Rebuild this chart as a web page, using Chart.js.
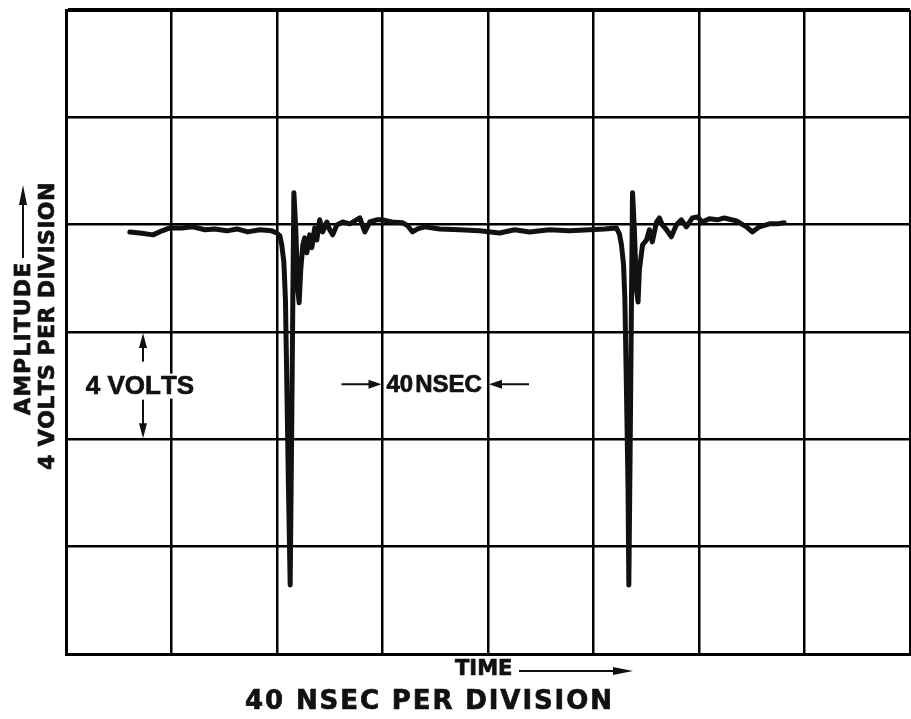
<!DOCTYPE html>
<html>
<head>
<meta charset="utf-8">
<title>Pulse trace</title>
<script src="https://cdn.jsdelivr.net/npm/chart.js@4/dist/chart.umd.min.js"></script>
<style>
    html, body { margin: 0; padding: 0; background: #fff; }
    canvas { display: block; }
</style>
</head>
<body>
<canvas id="scope" width="911" height="719"></canvas>
<script>
// screen: 8 divisions of 40 ns across, 6 divisions of 4 V up
let timeMin = 0;
let timeMax = 320;
let timeStep = 40;
let voltMin = 0;
let voltMax = 24;
let voltStep = 4;

// trace samples (ns, volts)
let traceTime = [
    24.2, 28.0, 33.0, 36.4, 39.4, 43.9, 48.1, 52.7, 56.4, 61.0, 64.8, 68.9, 73.5, 78.0,
    79.9, 81.1, 81.8, 82.6, 83.2, 83.7, 84.3, 85.0, 85.6, 86.0, 86.4, 87.1, 87.9, 88.4,
    89.0, 89.8, 90.5, 91.3, 92.4, 93.2, 94.3, 95.1, 96.2, 97.3, 98.9, 100.0, 101.1, 102.7,
    104.9, 107.6, 109.5, 111.4, 113.3, 115.2, 117.8, 120.1, 123.5, 127.7, 129.5, 131.4,
    133.3, 136.0, 141.7, 149.2, 156.8, 164.4, 170.1, 175.8, 183.3, 190.9, 198.5, 204.2,
    208.7, 209.8, 210.6, 211.4, 211.9, 212.5, 213.1, 213.4, 214.0, 214.4, 214.8, 215.5,
    216.3, 216.9, 217.4, 218.6, 220.1, 221.2, 222.3, 223.9, 225.0, 226.1, 227.7, 229.5,
    231.4, 233.3, 235.2, 237.5, 239.4, 241.3, 243.9, 247.0, 249.6, 254.2, 258.0, 260.2,
    262.9, 266.7, 269.7, 272.3
];
let traceVolts = [
    15.73, 15.69, 15.62, 15.77, 15.88, 15.88, 15.92, 15.81, 15.84, 15.77, 15.84, 15.73, 15.81, 15.77,
    15.69, 15.58, 15.25, 14.61, 13.20, 10.21, 6.49, 2.57, 8.72, 13.20, 17.19, 15.88, 13.57, 13.09,
    14.32, 15.25, 15.51, 14.95, 15.62, 15.14, 15.88, 15.43, 16.18, 15.73, 16.10, 15.81, 15.62, 15.99,
    16.10, 16.03, 16.14, 16.25, 15.73, 16.10, 16.18, 16.18, 16.10, 16.07, 15.96, 15.73,
    15.84, 15.92, 15.84, 15.81, 15.77, 15.69, 15.81, 15.73, 15.81, 15.77, 15.81, 15.84,
    15.88, 15.66, 15.25, 14.50, 13.20, 9.84, 6.11, 2.57, 8.72, 13.20, 17.19, 15.81,
    13.57, 13.12, 14.32, 15.25, 15.43, 15.81, 15.36, 16.10, 16.25, 15.99, 15.81, 15.55,
    15.99, 16.18, 15.92, 16.25, 16.29, 16.10, 16.22, 16.18, 16.25, 16.14, 15.92, 15.73,
    15.92, 16.03, 16.03, 16.07
];

// scale markers drawn on the graticule
let voltMarkTime = 29.2;
let voltMarkLow = 8;
let voltMarkHigh = 12;
let timeMarkLeft = 120;
let timeMarkRight = 160;
let timeMarkVolts = 10.05;

let points = traceTime.map((t, i) => ({ x: t, y: traceVolts[i] }));

const INK = '#111';
const SANS = '"Liberation Sans", Arial, sans-serif';
const WIDE = '"DejaVu Sans", sans-serif';

function arrow(ctx, x1, y1, x2, y2, len, half) {
    let a = Math.atan2(y2 - y1, x2 - x1);
    ctx.beginPath();
    ctx.moveTo(x1, y1);
    ctx.lineTo(x2 - Math.cos(a) * len * 0.6, y2 - Math.sin(a) * len * 0.6);
    ctx.stroke();
    ctx.beginPath();
    ctx.moveTo(x2, y2);
    ctx.lineTo(x2 - Math.cos(a) * len - Math.sin(a) * half, y2 - Math.sin(a) * len + Math.cos(a) * half);
    ctx.lineTo(x2 - Math.cos(a) * len + Math.sin(a) * half, y2 - Math.sin(a) * len - Math.cos(a) * half);
    ctx.closePath();
    ctx.fill();
}

// heavy lettering: fill plus a thin outline, letter by letter
function letter(ctx, text, x, y, spacing) {
    ctx.lineWidth = 0.7;
    for (let ch of text) {
        ctx.fillText(ch, x, y);
        ctx.strokeText(ch, x, y);
        x += ctx.measureText(ch).width + spacing;
    }
    return x;
}

function letterWidth(ctx, text, spacing) {
    let w = 0;
    for (let ch of text) w += ctx.measureText(ch).width + spacing;
    return w - spacing;
}

const scopeLabels = {
    id: 'scopeLabels',
    afterDraw(chart) {
        let ctx = chart.ctx;
        let xs = chart.scales.x;
        let ys = chart.scales.y;
        ctx.save();
        ctx.fillStyle = INK;
        ctx.strokeStyle = INK;
        ctx.textBaseline = 'middle';

        // 4 VOLTS marker
        let vx = xs.getPixelForValue(voltMarkTime);
        let vTop = ys.getPixelForValue(voltMarkHigh);
        let vBot = ys.getPixelForValue(voltMarkLow);
        let vMid = (vTop + vBot) / 2;
        ctx.lineWidth = 2;
        arrow(ctx, vx, vMid - 24, vx, vTop + 1, 15, 4);
        arrow(ctx, vx, vMid + 14, vx, vBot - 1, 15, 4);
        ctx.font = 'bold 26px ' + SANS;
        let w = letterWidth(ctx, '4 VOLTS', 0);
        ctx.fillStyle = '#fff';
        ctx.fillRect(vx - w / 2 - 4, vMid - 12, w + 6, 25);
        ctx.fillStyle = INK;
        letter(ctx, '4 VOLTS', vx - 3 - w / 2, vMid + 1, 0);

        // 40 NSEC marker
        let tl = xs.getPixelForValue(timeMarkLeft);
        let tr = xs.getPixelForValue(timeMarkRight);
        let ty = ys.getPixelForValue(timeMarkVolts);
        ctx.lineWidth = 2;
        arrow(ctx, tl - 41, ty, tl - 1, ty, 13, 4.5);
        arrow(ctx, tr + 41, ty, tr + 1, ty, 13, 4.5);
        ctx.font = 'bold 24px ' + SANS;
        let nx = letter(ctx, '40', tl + 4, ty + 1, 0);
        letter(ctx, 'NSEC', nx + 2, ty + 1, 0);

        // time axis caption
        ctx.font = 'bold 21px ' + WIDE;
        letter(ctx, 'TIME', 455, 670, 0);
        ctx.lineWidth = 2;
        arrow(ctx, 519, 671, 633, 671, 20, 4);
        ctx.font = 'bold 26px ' + WIDE;
        letter(ctx, '40 NSEC PER DIVISION', 245, 702, 1.9);

        // amplitude caption, turned on its side
        ctx.save();
        ctx.translate(23, 415);
        ctx.rotate(-Math.PI / 2);
        ctx.font = 'bold 22px ' + WIDE;
        letter(ctx, 'AMPLITUDE', 0, 1, 1.1);
        ctx.lineWidth = 2;
        arrow(ctx, 157, 0, 230, 0, 20, 4);
        ctx.restore();

        ctx.save();
        ctx.translate(47, 470);
        ctx.rotate(-Math.PI / 2);
        ctx.font = 'bold 22px ' + WIDE;
        letter(ctx, '4 VOLTS PER DIVISION', 0, 1, 0.4);
        ctx.restore();

        ctx.restore();
    }
};

new Chart(document.getElementById('scope'), {
    type: 'line',
    data: {
        datasets: [{
            data: points,
            borderColor: INK,
            borderWidth: 5,
            borderJoinStyle: 'round',
            borderCapStyle: 'round',
            pointRadius: 0,
            tension: 0,
            fill: false
        }]
    },
    options: {
        responsive: false,
        devicePixelRatio: 1,
        animation: false,
        layout: { padding: { left: 66, top: 10, right: 1, bottom: 65 } },
        plugins: { legend: { display: false }, tooltip: { enabled: false } },
        scales: {
            x: {
                type: 'linear',
                min: timeMin,
                max: timeMax,
                ticks: { stepSize: timeStep, display: false },
                grid: { color: '#000', lineWidth: 2.5, drawTicks: false },
                border: { color: '#000', width: 3 }
            },
            y: {
                min: voltMin,
                max: voltMax,
                ticks: { stepSize: voltStep, display: false },
                grid: {
                    color: '#000',
                    drawTicks: false,
                    lineWidth: ctx => (ctx.tick && ctx.tick.value === voltMax ? 4 : 2.5)
                },
                border: { color: '#000', width: 3 }
            }
        }
    },
    plugins: [scopeLabels]
});
</script>
</body>
</html>
